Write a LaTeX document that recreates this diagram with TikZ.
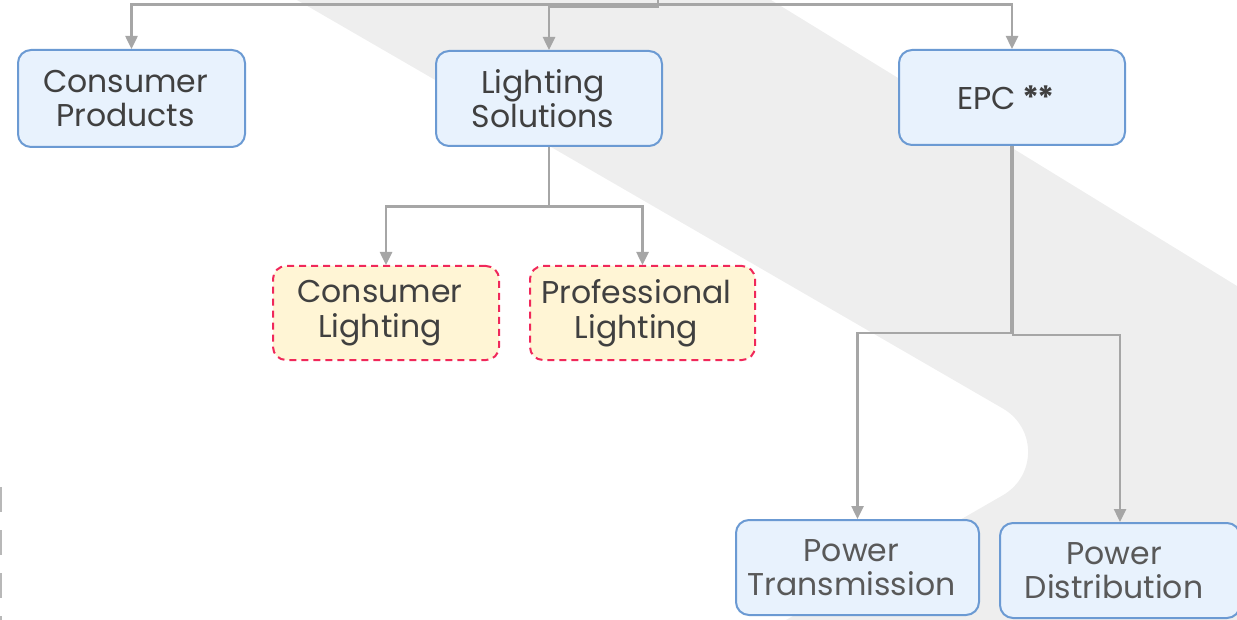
\documentclass[tikz,border=0pt]{standalone}
\usepackage{fontspec}
\setmainfont{Poppins}
\usetikzlibrary{arrows.meta}

\definecolor{bandgray}{HTML}{EEEEEE}
\definecolor{wiregray}{HTML}{A6A6A6}
\definecolor{boxblue}{HTML}{6B9AD3}
\definecolor{boxfill}{HTML}{E8F2FD}
\definecolor{dashred}{HTML}{F0285A}
\definecolor{dashfill}{HTML}{FFF5D5}
\definecolor{inkgray}{HTML}{404040}
\definecolor{softink}{HTML}{595959}

% each text line sits a little left of the box centre
\newcommand\lineL[1]{#1\hspace*{12pt}}

\begin{document}
\begin{tikzpicture}[x=1pt,y=-1pt,
  bluebox/.style={draw=boxblue, line width=2pt, fill=boxfill, rounded corners=13pt,
    inner sep=0pt, align=center, text=inkgray, font=\fontsize{31.5}{34.5}\selectfont},
  dashbox/.style={draw=dashred, line width=2pt, dash pattern=on 7pt off 5pt,
    fill=dashfill, rounded corners=13pt, inner sep=0pt, align=center,
    text=inkgray, font=\fontsize{31.5}{34.5}\selectfont},
  softtext/.style={text=softink},
  wire/.style={draw=wiregray, line width=2.5pt, -{Triangle[length=13pt,width=12pt]}},
  plain wire/.style={draw=wiregray, line width=2.5pt}]

\useasboundingbox (0,0) rectangle (1237,620);

% diagonal background band with a rounded notch
\fill[bandgray] (297,0) -- (1002.7,408.4)
  .. controls (1036.6,428.0) and (1036.5,475.9) .. (1002.6,495.4)
  -- (786,620) -- (1237,620) -- (1237,286) -- (771,0) -- cycle;

% cut-off dashed rule at the left edge
\draw[draw=wiregray!80, line width=2pt, dash pattern=on 25pt off 18pt] (1,487) -- (1,640);

% boxes
\node[bluebox, minimum width=227pt, minimum height=97pt] (cp) at (131.5,98.5)
  {\lineL{Consumer}\\\lineL{Products}};
\node[bluebox, minimum width=226pt, minimum height=95pt] (ls) at (549,98.5)
  {\lineL{Lighting}\\\lineL{Solutions}};
\node[bluebox, minimum width=226pt, minimum height=95pt] (epc) at (1012,97.5)
  {\lineL{EPC\hspace{6pt}{\fontsize{32}{32}\selectfont\bfseries *\kern-1.5pt*}}};
\node[dashbox, minimum width=226pt, minimum height=94pt] (cl) at (386,313)
  {\lineL{Consumer}\\\lineL{Lighting}};
\node[dashbox, minimum width=225pt, minimum height=94pt] (pl) at (642.5,313)
  {\lineL{Professional}\\\lineL{Lighting}};
\node[bluebox, softtext, minimum width=243pt, minimum height=95pt] (pt) at (857.5,567.5)
  {\lineL{Power}\\\lineL{Transmission}};
\node[bluebox, softtext, minimum width=240pt, minimum height=95pt] (pd) at (1120,570.5)
  {\lineL{Power}\\\lineL{Distribution}};

% connectors from the parent above
\coordinate (root) at (658,-4);
\coordinate (rj1) at (658,4.5);
\coordinate (rj2) at (658,7);
\draw[wire] (root) -- (rj1) -| (cp.north);
\draw[wire] (root) -- (rj2) -| (ls.north);
\draw[wire] (rj1) -| (epc.north);

% Lighting Solutions branches
\coordinate (lsj) at (549,206.5);
\draw[plain wire] (ls.south) -- (lsj);
\draw[wire] (lsj) -| (cl.north);
\draw[wire] (lsj) -| (pl.north);

% EPC branches
\coordinate (ej1) at (1011,333);
\coordinate (ej2) at (1013,335);
\draw[wire] (epc.south -| ej1) -- (ej1) -| (pt.north);
\draw[wire] (epc.south -| ej2) -- (ej2) -| (pd.north);

\end{tikzpicture}
\end{document}
